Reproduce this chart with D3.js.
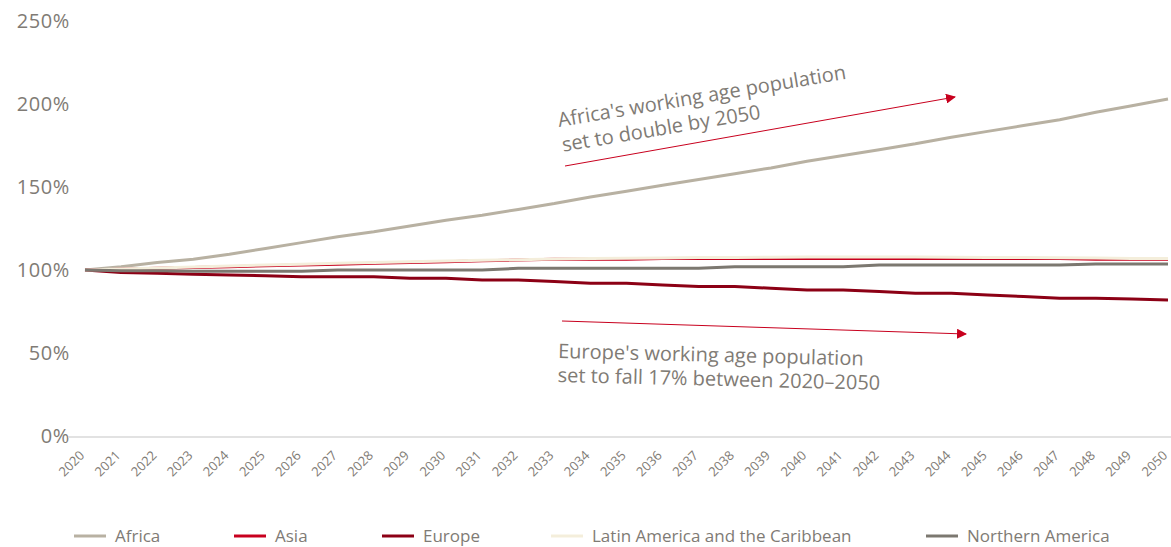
<!DOCTYPE html>
<html><head><meta charset="utf-8">
<script src="https://cdn.jsdelivr.net/npm/d3@7"></script>
<style>body{margin:0;background:#fff}svg{display:block;font-family:"Open Sans",sans-serif}</style>
</head><body><svg id="c" width="1171" height="547"></svg>
<script>
const years = d3.range(2020, 2051).map(String);
const yTicks = [0, 50, 100, 150, 200, 250];
const seriesNames = ["Africa","Asia","Europe","Latin America and the Caribbean","Northern America"];
const seriesColors = ["#b8b1a2","#c8001e","#8c0015","#f4eedb","#7c7870"];
const africa = [100,102,104.5,106.5,109.5,113,116.5,120,123,126.5,130,133,136.5,140,144,147.5,151,154.5,158,161.5,165.5,169,172.5,176,180,183.5,187,190.5,195,199,203];
const asia = [100,100.5,101,101.5,102,102.5,103,103.5,104,104.5,105,105.5,106,106.5,106.5,106.5,107,107,107,107,107,107,107,107,107,107,107,107,106.5,106.5,106.5];
const europe = [100,98.5,98,97.5,97,96.5,96,96,96,95,95,94,94,93,92,92,91,90,90,89,88,88,87,86,86,85,84,83,83,82.5,82];
const latam = [100,100.6,101.2,101.8,102.4,103,103.5,104,104.5,105,105.4,105.8,106.2,106.6,106.9,107.1,107.3,107.5,107.6,107.7,107.8,107.8,107.8,107.8,107.7,107.6,107.5,107.4,107.2,107,106.9];
const namerica = [100,99.5,99.5,99.3,99.2,99.2,99.2,100,100,100,100,100,101,101,101,101,101,101,102,102,102,102,103,103,103,103,103,103,103.6,103.6,103.6];
const seriesValues = [africa, asia, europe, latam, namerica];

const svg = d3.select("#c");
const textColor = "#7f7b75";
const x = d3.scalePoint().domain(years).range([85, 1168]);
const y = d3.scaleLinear().domain([0, 250]).range([436, 21]);

// y tick labels
svg.append("g").selectAll("text").data(yTicks).join("text")
  .attr("x", 70).attr("y", d => y(d)).attr("dy", "0.35em")
  .attr("text-anchor", "end").attr("fill", textColor)
  .style("font-size", "20px").style("letter-spacing", "0.6px").text(d => d + "%");

// x axis line
svg.append("line").attr("x1", 68).attr("x2", 1171).attr("y1", 437).attr("y2", 437)
  .attr("stroke", "#d9d9d9").attr("stroke-width", 1.5);

// x tick labels
svg.append("g").selectAll("text").data(years).join("text")
  .attr("transform", d => `translate(${x(d)-3},${453}) rotate(-45)`)
  .attr("text-anchor", "end").attr("dy", "0.35em").attr("fill", textColor)
  .style("font-size", "13px").text(d => d);

// lines
const line = d3.line().x((d, i) => x(years[i])).y(d => y(d));
svg.append("g").selectAll("path").data(seriesValues).join("path")
  .attr("d", d => line(d)).attr("fill", "none")
  .attr("stroke", (d, i) => seriesColors[i]).attr("stroke-width", 3)
  .attr("stroke-linejoin", "round");

// arrows
const defs = svg.append("defs");
defs.append("marker").attr("id", "ah").attr("viewBox", "0 0 10 10")
  .attr("refX", 9).attr("refY", 5).attr("markerWidth", 10).attr("markerHeight", 10)
  .attr("markerUnits", "userSpaceOnUse").attr("orient", "auto")
  .append("path").attr("d", "M0,0 L10,5 L0,10 z").attr("fill", "#c8001e");
svg.append("line").attr("x1", 565).attr("y1", 166).attr("x2", 955).attr("y2", 97)
  .attr("stroke", "#c8001e").attr("stroke-width", 1).attr("marker-end", "url(#ah)");
svg.append("line").attr("x1", 562).attr("y1", 321).attr("x2", 966).attr("y2", 334)
  .attr("stroke", "#c8001e").attr("stroke-width", 1).attr("marker-end", "url(#ah)");

// annotations
const t1 = svg.append("text").attr("transform", "translate(559,127) rotate(-9.5)")
  .attr("fill", textColor).style("font-size", "20px");
t1.append("tspan").attr("x", 0).attr("y", 0).text("Africa's working age population");
t1.append("tspan").attr("x", 0).attr("y", 25).text("set to double by 2050");
const t2 = svg.append("text").attr("transform", "translate(558,358) rotate(1.4)")
  .attr("fill", textColor).style("font-size", "20px");
t2.append("tspan").attr("x", 0).attr("y", 0).text("Europe's working age population");
t2.append("tspan").attr("x", 0).attr("y", 24).text("set to fall 17% between 2020\u20132050");

// legend
const legX = [74, 234, 382, 551, 926];
const lg = svg.append("g").selectAll("g").data(seriesNames).join("g")
  .attr("transform", (d, i) => `translate(${legX[i]},536)`);
lg.append("line").attr("x1", 0).attr("x2", 32).attr("stroke", (d, i) => seriesColors[i]).attr("stroke-width", 3);
lg.append("text").attr("x", 41).attr("dy", "0.35em").attr("fill", textColor)
  .style("font-size", "17px").text(d => d);
</script></body></html>
